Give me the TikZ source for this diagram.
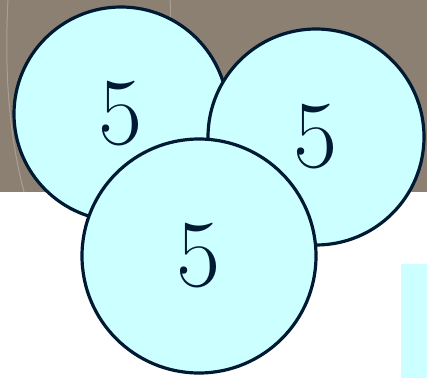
\documentclass[tikz,border=0pt]{standalone}
\definecolor{ballfill}{HTML}{CCFFFF}
\definecolor{balledge}{HTML}{001A33}
\definecolor{boardbrown}{RGB}{140,128,114}
\begin{document}
\begin{tikzpicture} [
      x=1pt, y=1pt,
      ball/.style={circle, draw=balledge, line width=3.2pt, fill=ballfill, inner sep=0pt, text=balledge, font=\fontsize{96}{96}\selectfont},
      chalk/.style={draw=white, opacity=0.25, line width=1pt}
  ]
  \useasboundingbox (0,0) rectangle (427,378);
  \fill[white] (0,0) rectangle (427,378);
  \fill[boardbrown] (0,186) rectangle (427,378);
  \draw[chalk] (8,378) .. controls (4,300) and (10,240) .. (24,186);
  \draw[chalk] (170,378) .. controls (172,360) and (168,345) .. (164,330);
  \fill[ballfill] (401,0) rectangle (427,114);

  \node[ball, minimum size=214pt] (left) at (121,264) {5};
  \node[ball, minimum size=216pt] (right) at (316,241) {5};
  \node[ball, minimum size=234pt] (front) at (199,122) {5};
\end{tikzpicture}
\end{document}
